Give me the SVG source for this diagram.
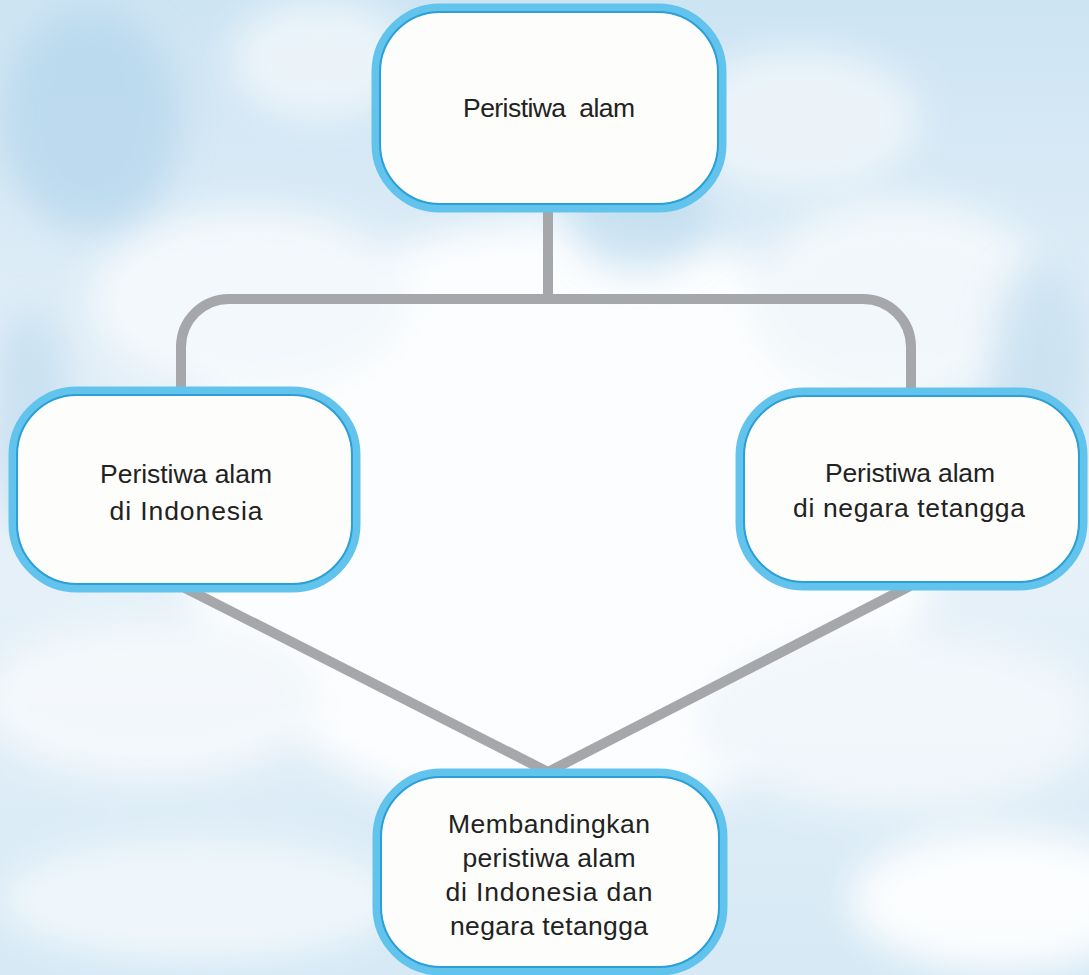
<svg xmlns="http://www.w3.org/2000/svg" width="1089" height="975" viewBox="0 0 1089 975">
<defs>
<linearGradient id="sky" x1="0" y1="0" x2="0" y2="1">
<stop offset="0" stop-color="#cde4f3"/>
<stop offset="0.5" stop-color="#e9f2f9"/>
<stop offset="1" stop-color="#d6e9f5"/>
</linearGradient>
<filter id="blur" x="-20%" y="-20%" width="140%" height="140%"><feGaussianBlur stdDeviation="18"/></filter>
<style>
.box{fill:#fdfdfb;stroke:#62c3ec;stroke-width:9}
.inner{fill:none;stroke:#2b9fd6;stroke-width:2}
.lbl{font-family:"Liberation Sans",Arial,sans-serif;font-size:26.5px;fill:#222222;text-anchor:middle}
.conn{fill:none;stroke:#a6a7aa;stroke-width:10;stroke-linejoin:round}
</style>
</defs>
<rect width="1089" height="975" fill="url(#sky)"/>
<g filter="url(#blur)" opacity="0.9">
<ellipse cx="560" cy="520" rx="380" ry="300" fill="#ffffff"/>
<ellipse cx="250" cy="300" rx="160" ry="90" fill="#f6fafd"/>
<ellipse cx="900" cy="300" rx="150" ry="100" fill="#f4f9fc"/>
<ellipse cx="150" cy="700" rx="170" ry="80" fill="#f5f9fc"/>
<ellipse cx="900" cy="720" rx="200" ry="90" fill="#f3f8fc"/>
<ellipse cx="1000" cy="900" rx="150" ry="70" fill="#ffffff"/>
<ellipse cx="200" cy="900" rx="200" ry="60" fill="#f2f8fc"/>
<ellipse cx="320" cy="60" rx="90" ry="60" fill="#eef5fa"/>
<ellipse cx="800" cy="120" rx="120" ry="70" fill="#eef5fa"/>
</g>
<g filter="url(#blur)" opacity="0.7">
<ellipse cx="90" cy="120" rx="90" ry="110" fill="#b4d5ec"/>
<ellipse cx="640" cy="220" rx="70" ry="50" fill="#bcdaee"/>
<ellipse cx="1040" cy="380" rx="50" ry="120" fill="#c2ddef"/>
<ellipse cx="30" cy="420" rx="40" ry="110" fill="#c0dcef"/>
</g>
<g id="connectors">
<path class="conn" d="M548 208 V299"/>
<path class="conn" d="M181 392 V347 A48 48 0 0 1 229 299 H863 A48 48 0 0 1 911 347 V392"/>
<path class="conn" d="M185 588 L548 772 L910 586"/>
</g>
<g id="node-top">
<rect class="box" x="376" y="8" width="346" height="200" rx="64"/>
<rect class="inner" x="380" y="12" width="338" height="192" rx="60"/>
<text class="lbl" x="549" y="117" textLength="172" lengthAdjust="spacing" xml:space="preserve">Peristiwa  alam</text>
</g>
<g id="node-left">
<rect class="box" x="13" y="391" width="343" height="197" rx="64"/>
<rect class="inner" x="17" y="395" width="335" height="189" rx="60"/>
<text class="lbl" x="186" y="483" textLength="172" lengthAdjust="spacing">Peristiwa alam</text>
<text class="lbl" x="186" y="520" textLength="153" lengthAdjust="spacing">di Indonesia</text>
</g>
<g id="node-right">
<rect class="box" x="740" y="392" width="343" height="194" rx="64"/>
<rect class="inner" x="744" y="396" width="335" height="186" rx="60"/>
<text class="lbl" x="910" y="482" textLength="170" lengthAdjust="spacing">Peristiwa alam</text>
<text class="lbl" x="909" y="517" textLength="232" lengthAdjust="spacing">di negara tetangga</text>
</g>
<g id="node-bottom">
<rect class="box" x="377" y="773" width="346" height="198" rx="64"/>
<rect class="inner" x="381" y="777" width="338" height="190" rx="60"/>
<text class="lbl" x="549" y="833" textLength="202" lengthAdjust="spacing">Membandingkan</text>
<text class="lbl" x="549" y="867" textLength="173" lengthAdjust="spacing">peristiwa alam</text>
<text class="lbl" x="549" y="901" textLength="207" lengthAdjust="spacing">di Indonesia dan</text>
<text class="lbl" x="549" y="935" textLength="198" lengthAdjust="spacing">negara tetangga</text>
</g>
</svg>
